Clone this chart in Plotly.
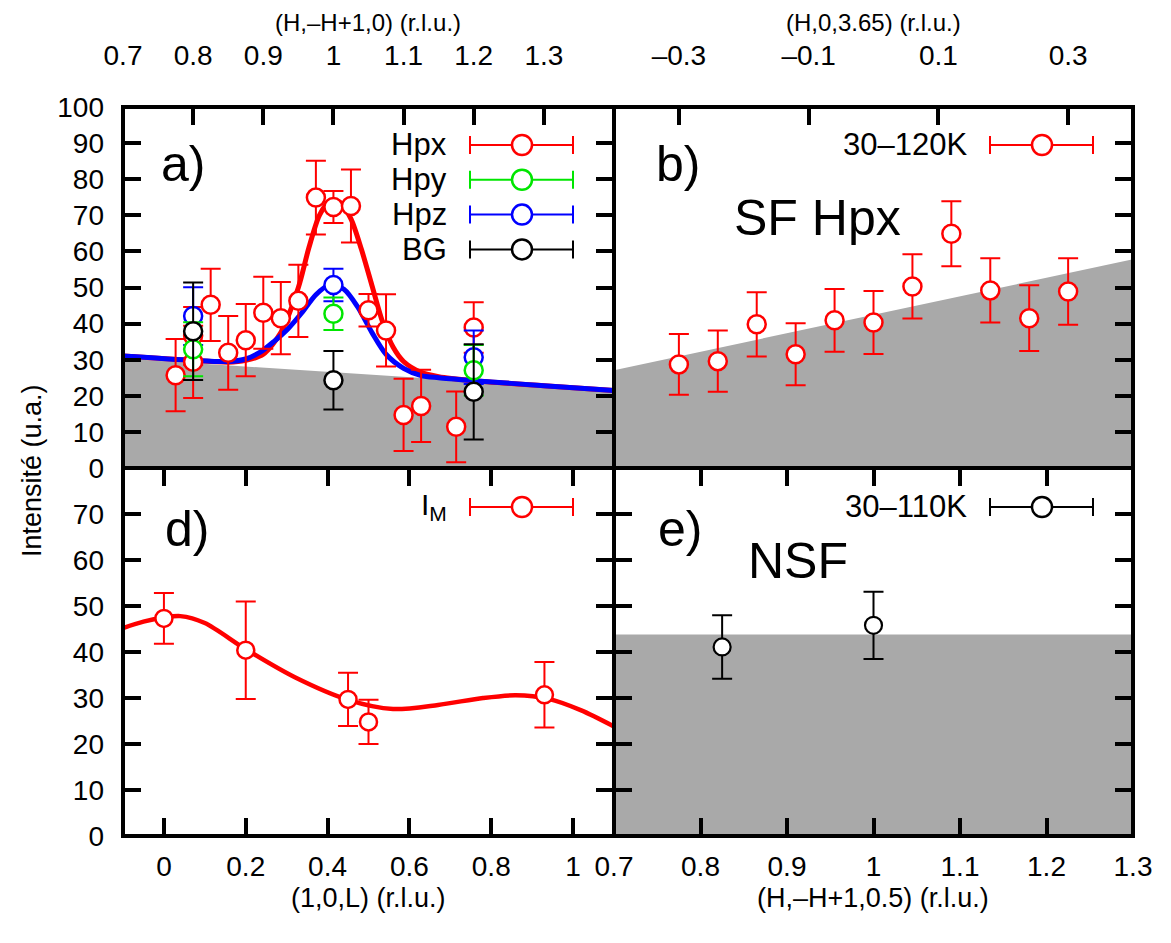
import plotly.graph_objects as go

# ---------------- data ----------------
# panel a) (H,-H+1,0)
hpx_h = [0.775, 0.8, 0.8, 0.825, 0.85, 0.875, 0.9, 0.925, 0.95, 0.975, 1.0, 1.025, 1.05, 1.075, 1.1, 1.125, 1.175, 1.2]
hpx_i = [25.7, 36.6, 29.4, 45.2, 31.9, 35.4, 43.0, 41.5, 46.3, 74.9, 72.3, 72.6, 43.7, 38.1, 14.7, 17.2, 11.4, 38.9]
hpx_e = [10.0, 8.0, 10.0, 10.0, 10.2, 10.0, 10.0, 10.0, 10.0, 10.2, 4.4, 10.1, 4.5, 10.0, 10.0, 10.0, 9.8, 7.0]
hpy_h = [0.8, 1.0, 1.2]
hpy_i = [32.9, 42.7, 27.1]
hpy_e = [7.5, 4.5, 7.0]
hpz_h = [0.8, 1.0, 1.2]
hpz_i = [42.1, 50.7, 30.7]
hpz_e = [8.0, 4.5, 7.4]
bg_h = [0.8, 1.0, 1.2]
bg_i = [37.9, 24.3, 21.1]
bg_e = [13.5, 8.1, 13.2]
fit_x_h = [0.70, 0.80, 0.85, 0.875, 0.90, 0.925, 0.95, 0.965, 0.98, 0.995, 1.01, 1.025, 1.04, 1.055, 1.07, 1.085, 1.10, 1.125, 1.15, 1.20, 1.30, 1.40]
fit_x_i = [31.0, 29.8, 29.3, 29.8, 31.5, 37.5, 50.0, 61.0, 70.0, 74.0, 73.5, 69.0, 60.5, 50.5, 40.5, 33.5, 29.5, 26.5, 25.3, 24.2, 22.8, 21.5]
fit_z_h = [0.70, 0.80, 0.85, 0.875, 0.895, 0.915, 0.935, 0.955, 0.975, 0.995, 1.015, 1.035, 1.055, 1.075, 1.10, 1.125, 1.15, 1.20, 1.30, 1.40]
fit_z_i = [31.0, 29.8, 29.5, 30.2, 32.0, 35.0, 38.5, 43.0, 48.0, 50.8, 49.5, 44.5, 37.5, 31.5, 27.6, 25.6, 25.0, 24.2, 22.8, 21.5]
bgA_h = [0.7, 1.4]
bgA_i = [30.3, 21.5]

# panel b) (H,0,3.65)
b_h = [-0.30, -0.24, -0.18, -0.12, -0.06, 0.0, 0.06, 0.12, 0.18, 0.24, 0.30]
b_i = [28.7, 29.6, 39.8, 31.5, 40.9, 40.3, 50.3, 64.9, 49.2, 41.5, 48.9]
b_e = [8.4, 8.5, 8.9, 8.6, 8.7, 8.7, 8.9, 9.0, 8.9, 9.1, 9.2]
bgB_h = [-0.4, 0.4]
bgB_i = [27.1, 57.8]

# panel d) (1,0,L)
d_l = [0.0, 0.2, 0.45, 0.5, 0.93]
d_i = [47.3, 40.4, 29.7, 24.8, 30.7]
d_e = [5.5, 10.6, 5.8, 4.8, 7.1]
fit_d_l = [-0.10, -0.05, 0.00, 0.04, 0.10, 0.20, 0.32, 0.45, 0.56, 0.67, 0.78, 0.86, 0.94, 1.02, 1.10]
fit_d_i = [45.2, 46.6, 47.5, 47.8, 46.3, 40.6, 34.5, 29.6, 27.6, 28.5, 30.0, 30.6, 29.8, 27.3, 23.8]

# panel e) (H,-H+1,0.5)
e_h = [0.825, 1.0]
e_i = [41.1, 45.8]
e_e = [6.9, 7.3]
bgE_h = [0.7, 1.3]
bgE_i = [43.8, 43.8]

topA_ticks = [0.7, 0.8, 0.9, 1.0, 1.1, 1.2, 1.3]
topA_text = ["0.7", "0.8", "0.9", "1", "1.1", "1.2", "1.3"]
topB_ticks = [-0.3, -0.1, 0.1, 0.3]
topB_text = ["–0.3", "–0.1", "0.1", "0.3"]
botD_ticks = [0, 0.2, 0.4, 0.6, 0.8, 1.0]
botD_text = ["0", "0.2", "0.4", "0.6", "0.8", "1"]
botE_ticks = [0.7, 0.8, 0.9, 1.0, 1.1, 1.2, 1.3]
botE_text = ["0.7", "0.8", "0.9", "1", "1.1", "1.2", "1.3"]
yTop_ticks = list(range(0, 101, 10))
yBot_ticks = list(range(0, 71, 10))

# ---------------- layout geometry ----------------
W, H = 1171, 943
OFF = 8  # page body margin in the browser
def PX(x): return (x - OFF) / W
def PY(y): return 1 - (y - OFF) / H
XL, XM, XR = 123, 614, 1133
YT, YM, YB = 107, 468, 836

RED, GREEN, BLUE, BLACK = "#ff0000", "#00e600", "#0000ff", "#000000"
GRAY = "#a9a9a9"
FONT = "Liberation Sans, Arial, Helvetica, sans-serif"

fig = go.Figure()

def band(x, y, xa, ya):
    fig.add_trace(go.Scatter(x=x, y=y, xaxis=xa, yaxis=ya, mode="lines", fill="tozeroy",
                             fillcolor=GRAY, line=dict(width=0, color=GRAY), hoverinfo="skip"))

def curve(x, y, xa, ya, color, w=5):
    fig.add_trace(go.Scatter(x=x, y=y, xaxis=xa, yaxis=ya, mode="lines",
                             line=dict(color=color, width=w, shape="spline", smoothing=0.8)))

def points(x, y, e, xa, ya, color, size=18, lw=2.5, et=2):
    fig.add_trace(go.Scatter(x=x, y=y, xaxis=xa, yaxis=ya, mode="markers",
                             marker=dict(symbol="circle", size=size, color="white",
                                         line=dict(color=color, width=lw)),
                             error_y=dict(type="data", array=e, visible=True, color=color,
                                          thickness=et, width=10)))

# panel a
band(bgA_h, bgA_i, "x", "y")
curve(fit_x_h, fit_x_i, "x", "y", RED)
curve(fit_z_h, fit_z_i, "x", "y", BLUE)
points(hpx_h, hpx_i, hpx_e, "x", "y", RED)
points(hpz_h, hpz_i, hpz_e, "x", "y", BLUE)
points(hpy_h, hpy_i, hpy_e, "x", "y", GREEN)
points(bg_h, bg_i, bg_e, "x", "y", BLACK)
# panel b
band(bgB_h, bgB_i, "x2", "y2")
points(b_h, b_i, b_e, "x2", "y2", RED)
# panel d
curve(fit_d_l, fit_d_i, "x3", "y3", RED, 4.5)
points(d_l, d_i, d_e, "x3", "y3", RED, size=17)
# panel e
band(bgE_h, bgE_i, "x4", "y4")
points(e_h, e_i, e_e, "x4", "y4", BLACK, size=17, lw=2.2)

tickfont = dict(family=FONT, size=28, color="black")
common = dict(ticks="inside", ticklen=18, tickwidth=4, tickcolor="black", showline=False,
              showgrid=False, zeroline=False, tickfont=tickfont, fixedrange=True)

dxA = [PX(XL), PX(XM)]
dxB = [PX(XM), PX(XR)]
dyT = [PY(YM), PY(YT)]
dyB = [PY(YB), PY(YM)]

fig.update_layout(
    width=W, height=H, margin=dict(l=0, r=0, t=0, b=0, pad=0, autoexpand=False),
    paper_bgcolor="white", plot_bgcolor="white", showlegend=False,
    font=dict(family=FONT, color="black"),
    xaxis=dict(domain=dxA, anchor="y", side="top", range=[0.7, 1.4], tickvals=topA_ticks,
               ticktext=topA_text, mirror=False, ticklabelstandoff=35, **common),
    yaxis=dict(domain=dyT, anchor="x", range=[0, 100], tickvals=yTop_ticks, mirror="ticks",
               ticklabelstandoff=18, **common),
    xaxis2=dict(domain=dxB, anchor="y2", side="top", range=[-0.4, 0.4], tickvals=topB_ticks,
                ticktext=topB_text, mirror=False, ticklabelstandoff=35, **common),
    yaxis2=dict(domain=dyT, anchor="x2", side="right", range=[0, 100], tickvals=yTop_ticks,
                showticklabels=False, mirror=False, **common),
    xaxis3=dict(domain=dxA, anchor="y3", side="bottom", range=[-0.1, 1.1], tickvals=botD_ticks,
                ticktext=botD_text, mirror="ticks", ticklabelstandoff=11, **common),
    yaxis3=dict(domain=dyB, anchor="x3", range=[0, 80], tickvals=yBot_ticks, mirror="ticks",
                ticklabelstandoff=18, **common),
    xaxis4=dict(domain=dxB, anchor="y4", side="bottom", range=[0.7, 1.3], tickvals=botE_ticks,
                ticktext=botE_text, mirror="ticks", ticklabelstandoff=11, **common),
    yaxis4=dict(domain=dyB, anchor="x4", range=[0, 80], tickvals=yBot_ticks, mirror="ticks",
                showticklabels=False, **common),
)

shapes = []
# panel frames
for (x0, x1, y0, y1) in [(XL, XM, YT, YM), (XM, XR, YT, YM), (XL, XM, YM, YB), (XM, XR, YM, YB)]:
    shapes.append(dict(type="rect", xref="paper", yref="paper", x0=PX(x0), x1=PX(x1),
                       y0=PY(y1), y1=PY(y0), line=dict(color="black", width=4), layer="above"))

def key(xl, xc, xr, y, color, lw=2):
    shapes.append(dict(type="line", xref="paper", yref="paper", x0=PX(xl), x1=PX(xr),
                       y0=PY(y), y1=PY(y), line=dict(color=color, width=lw)))
    for xx in (xl, xr):
        shapes.append(dict(type="line", xref="paper", yref="paper", x0=PX(xx), x1=PX(xx),
                           y0=PY(y - 9), y1=PY(y + 9), line=dict(color=color, width=lw)))
    shapes.append(dict(type="circle", xref="paper", yref="paper", xsizemode="pixel",
                       ysizemode="pixel", xanchor=PX(xc), yanchor=PY(y), x0=-10, x1=10,
                       y0=-10, y1=10, fillcolor="white", line=dict(color=color, width=2.5)))

annotations = []
def text(x, y, s, size, xanchor="left", angle=0):
    annotations.append(dict(x=PX(x), y=PY(y), xref="paper", yref="paper", text=s,
                            showarrow=False, xanchor=xanchor, yanchor="middle", textangle=angle,
                            font=dict(family=FONT, size=size, color="black")))

legA = [("Hpx", RED), ("Hpy", GREEN), ("Hpz", BLUE), ("BG", BLACK)]
for i, (lab, col) in enumerate(legA):
    yy = 145 + i * 34.8
    key(470, 522, 573, yy, col)
    text(449, yy, lab, 31, "right")
key(990, 1042, 1093, 145, RED)
text(969, 145, "30–120K", 31, "right")
key(470, 522, 573, 507, RED)
text(449, 507, "I<sub>M</sub>", 30, "right")
key(990, 1042, 1093, 507, BLACK)
text(969, 507, "30–110K", 31, "right")

text(159, 164, "a)", 50)
text(654, 164, "b)", 50)
text(163, 529, "d)", 50)
text(656, 529, "e)", 50)
text(732, 218, "SF Hpx", 50)
text(746, 561, "NSF", 50)

text(368, 23, "(H,–H+1,0) (r.l.u.)", 24, "center")
text(873, 23, "(H,0,3.65) (r.l.u.)", 24, "center")
text(368, 898, "(1,0,L) (r.l.u.)", 27, "center")
text(873, 898, "(H,–H+1,0.5) (r.l.u.)", 27, "center")
text(32, 471, "Intensité (u.a.)", 27, "center", -90)

fig.update_layout(shapes=shapes, annotations=annotations)
fig.write_html("out.html")
